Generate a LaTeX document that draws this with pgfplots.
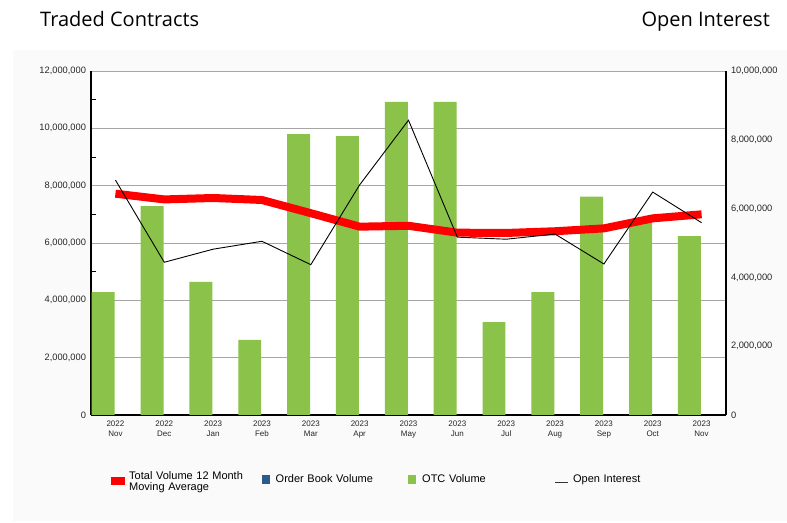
\documentclass[border=0pt]{standalone}
\usepackage{pgfplots}
\pgfplotsset{compat=1.18}
\usepackage{fontspec}
\setmainfont{Liberation Sans}
\newfontfamily\titlefont{Open Sans}
\definecolor{otcgreen}{HTML}{8BC34A}
\definecolor{obblue}{HTML}{2F5A8C}
\definecolor{panel}{HTML}{FAFAFA}
\definecolor{gridgray}{HTML}{A6A6A6}
\begin{document}
\begin{tikzpicture}[x=1pt,y=1pt]
\fill[white] (0,0) rectangle (787,522);
\fill[panel] (13,1) rectangle (787,472);
\node[anchor=base west, font=\titlefont\fontsize{20}{24}\selectfont, inner sep=0pt] at (40,495) {Traded Contracts};
\node[anchor=base east, font=\titlefont\fontsize{20}{24}\selectfont, inner sep=0pt] at (770,495) {Open Interest};
\begin{axis}[
  at={(91pt,107pt)}, anchor=south west,
  scale only axis, width=635pt, height=344pt,
  xmin=-0.5, xmax=12.5, ymin=0, ymax=12000000,
  axis background/.style={fill=white},
  axis x line*=bottom, axis y line*=left,
  axis line style={-, black, line width=1.2pt},
  tick align=inside,
  xtick={0,1,2,3,4,5,6,7,8,9,10,11,12},
  xticklabels={{2022\\Nov},{2022\\Dec},{2023\\Jan},{2023\\Feb},{2023\\Mar},{2023\\Apr},{2023\\May},{2023\\Jun},{2023\\Jul},{2023\\Aug},{2023\\Sep},{2023\\Oct},{2023\\Nov}},
  xticklabel style={align=center, font=\fontsize{8}{10}\selectfont, text=black!85, yshift=-2pt},
  major x tick style={draw=none},
  ytick={0,2000000,4000000,6000000,8000000,10000000,12000000},
  minor ytick={1000000,3000000,5000000,7000000,9000000,11000000},
  major y tick style={draw=none},
  minor tick length=5pt,
  minor tick style={black, line width=0.8pt},
  ymajorgrids, major grid style={gridgray, line width=0.8pt},
  scaled y ticks=false,
  yticklabel style={/pgf/number format/.cd, fixed, precision=0, 1000 sep={,}, assume math mode=true, /tikz/.cd, font=\fontsize{9.3}{11}\selectfont, text=black!85, xshift=-1.5pt},
]
\addplot[ybar, bar width=0.47, bar shift=-0.25, fill=otcgreen, draw=none] coordinates {
(0,4290000) (1,7290000) (2,4640000) (3,2620000) (4,9800000) (5,9730000) (6,10920000)
(7,10920000) (8,3240000) (9,4290000) (10,7620000) (11,6740000) (12,6240000)};
\addplot[red, line width=8pt, mark=none] coordinates {
(0,7720000) (1,7520000) (2,7570000) (3,7500000) (4,7040000) (5,6570000) (6,6600000)
(7,6360000) (8,6350000) (9,6410000) (10,6510000) (11,6860000) (12,7000000)};
\end{axis}
\begin{axis}[
  at={(91pt,107pt)}, anchor=south west,
  scale only axis, width=635pt, height=344pt,
  xmin=-0.5, xmax=12.5, ymin=0, ymax=10000000,
  axis x line=none, axis y line*=right,
  axis line style={-, black, line width=1.2pt},
  ytick={0,2000000,4000000,6000000,8000000,10000000},
  major y tick style={draw=none},
  scaled y ticks=false,
  yticklabel style={/pgf/number format/.cd, fixed, precision=0, 1000 sep={,}, assume math mode=true, /tikz/.cd, font=\fontsize{9.3}{11}\selectfont, text=black!85, xshift=1.5pt},
  legend columns=4,
  legend cell align=left,
  legend style={at={(0.0315,-0.186)}, anchor=west, draw=none, fill=none,
    inner xsep=0pt, inner ysep=0pt, column sep=0pt,
    font=\fontsize{11}{12}\selectfont,
    nodes={inner xsep=3pt, text width=129.5pt, align=left}},
]
\addlegendimage{legend image code/.code={\path[draw=none,fill=none] (0pt,-4.5pt) rectangle (15pt,4.5pt); \fill[red, draw=none] (0pt,-6pt) rectangle (13.5pt,2pt);}}
\addlegendentry{\begin{tabular}[c]{@{}l@{}}Total Volume 12 Month\\[-0.5pt]Moving Average\end{tabular}}
\addlegendimage{legend image code/.code={\path[draw=none,fill=none] (0pt,-4.5pt) rectangle (11pt,4.5pt); \fill[obblue, draw=none] (0pt,-5.3pt) rectangle (8pt,3.5pt);}}
\addlegendentry{Order Book Volume}
\addlegendimage{legend image code/.code={\path[draw=none,fill=none] (0pt,-4.5pt) rectangle (11pt,4.5pt); \fill[otcgreen, draw=none] (0pt,-5.3pt) rectangle (8pt,3.5pt);}}
\addlegendentry{OTC Volume}
\addplot[black, line width=0.9pt, mark=none, legend image code/.code={\path[draw=none,fill=none] (0pt,-4.5pt) rectangle (15pt,4.5pt); \draw[black!80, line width=0.8pt] (0pt,-3.5pt) -- (12.5pt,-3.5pt);}] coordinates {
(0,6830000) (1,4440000) (2,4820000) (3,5050000) (4,4370000) (5,6690000) (6,8570000)
(7,5170000) (8,5110000) (9,5260000) (10,4390000) (11,6480000) (12,5590000)};
\addlegendentry{Open Interest}
\end{axis}
\end{tikzpicture}
\end{document}
